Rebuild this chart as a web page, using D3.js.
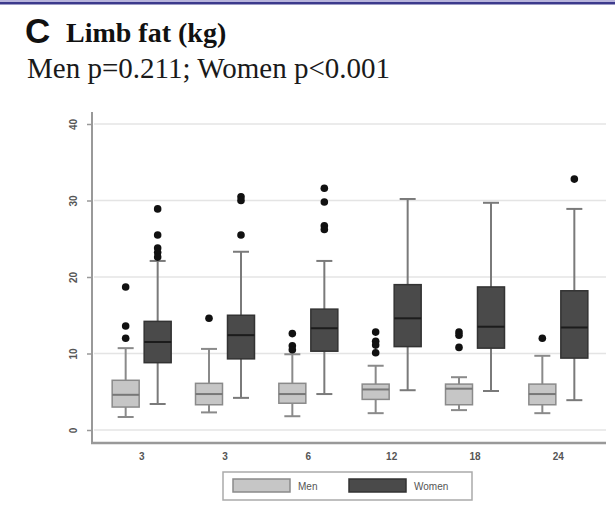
<!DOCTYPE html>
<html>
<head>
<meta charset="utf-8">
<script src="https://cdn.jsdelivr.net/npm/d3@7/dist/d3.min.js"></script>
<style>
  body { margin: 0; background: #fff; }
  svg { display: block; }
</style>
</head>
<body>
<svg id="chart" width="615" height="512"></svg>
<script>
// visit labels as printed under the boxes
const visits = ["3", "3", "6", "12", "18", "24"];
const yTicks = [0, 10, 20, 30, 40];

// men: whisker low, q1, median, q3, whisker high, outliers
const menLow = [1.7, 2.3, 1.8, 2.2, 2.6, 2.2];
const menQ1 = [3.0, 3.3, 3.5, 4.0, 3.3, 3.3];
const menMedian = [4.6, 4.7, 4.7, 5.3, 5.4, 4.7];
const menQ3 = [6.5, 6.1, 6.1, 6.0, 6.0, 6.0];
const menHigh = [10.7, 10.6, 9.9, 8.4, 6.9, 9.7];
const menOutliers = [[18.7, 13.6, 12.0], [14.6], [12.6, 11.0, 10.5], [12.8, 11.6, 11.1, 10.1], [12.8, 12.4, 10.8], [12.0]];

// women
const womenLow = [3.4, 4.2, 4.7, 5.2, 5.1, 3.9];
const womenQ1 = [8.8, 9.3, 10.3, 10.9, 10.7, 9.4];
const womenMedian = [11.5, 12.4, 13.3, 14.6, 13.5, 13.4];
const womenQ3 = [14.2, 15.0, 15.8, 19.0, 18.7, 18.2];
const womenHigh = [22.1, 23.3, 22.1, 30.2, 29.7, 28.9];
const womenOutliers = [[28.9, 25.5, 23.8, 23.2, 22.6], [30.5, 30.0, 25.5], [31.6, 29.8, 26.7, 26.2], [], [], [32.8]];

var svg = d3.select("#chart");

// frame line at the top
svg.append("rect").attr("x", 0).attr("y", 0).attr("width", 615).attr("height", 2).attr("fill", "#b8b4dc");
svg.append("rect").attr("x", 0).attr("y", 2).attr("width", 615).attr("height", 2.5).attr("fill", "#3c3a8c");

// titles
svg.append("text").attr("x", 25).attr("y", 43)
  .style("font-family", "Liberation Sans, Arial, sans-serif").style("font-weight", "bold")
  .style("font-size", "35px").attr("fill", "#111").text("C");
svg.append("text").attr("x", 66).attr("y", 42)
  .style("font-family", "Liberation Serif, Times New Roman, serif").style("font-weight", "bold")
  .style("font-size", "28px").attr("fill", "#111").text("Limb fat (kg)");
svg.append("text").attr("x", 27).attr("y", 78)
  .style("font-family", "Liberation Serif, Times New Roman, serif")
  .style("font-size", "29px").attr("fill", "#1a1a1a").text("Men p=0.211; Women p<0.001");

var x = d3.scaleBand().domain(d3.range(visits.length)).range([100, 600]);
var y = d3.scaleLinear().domain([0, 40]).range([430, 124]);

var plot = svg.append("g");

// gridlines
plot.selectAll(".grid").data(yTicks).enter().append("line")
  .attr("x1", 94).attr("x2", 606)
  .attr("y1", d => y(d)).attr("y2", d => y(d))
  .attr("stroke", "#e4e4e4").attr("stroke-width", 1.5);

// y axis
var yAxis = plot.append("g").attr("transform", "translate(92,0)")
  .call(d3.axisLeft(y).tickValues(yTicks).tickSize(5).tickPadding(10));
yAxis.select(".domain").attr("stroke", "#999").attr("stroke-width", 2).attr("d", "M0,112V443");
yAxis.selectAll(".tick line").attr("stroke", "#999").attr("stroke-width", 1.5);
yAxis.selectAll(".tick text")
  .attr("transform", "rotate(-90)").attr("x", 0).attr("y", -19).attr("dy", "0.35em")
  .style("text-anchor", "middle").style("font-family", "Liberation Sans, Arial, sans-serif")
  .style("font-weight", "bold").style("font-size", "10px").attr("fill", "#555");

// x axis
var xAxis = plot.append("g").attr("transform", "translate(0,443)")
  .call(d3.axisBottom(x).tickFormat(i => visits[i]).tickSize(0).tickPadding(10));
xAxis.select(".domain").attr("stroke", "#999").attr("stroke-width", 2.5).attr("d", "M91,0H606");
xAxis.selectAll(".tick text")
  .style("font-family", "Liberation Sans, Arial, sans-serif").style("font-weight", "bold")
  .style("font-size", "10px").attr("fill", "#555");

function drawBoxes(low, q1, med, q3, high, outs, offset, style) {
  var bw = 27, cap = 16;
  var g = plot.append("g");
  var groups = g.selectAll("g").data(d3.range(visits.length)).enter().append("g")
    .attr("transform", i => "translate(" + (x(i) + x.bandwidth() / 2 + offset) + ",0)");

  groups.append("line").attr("x1", 0).attr("x2", 0)
    .attr("y1", i => y(high[i])).attr("y2", i => y(q3[i]))
    .attr("stroke", style.whisker).attr("stroke-width", 2);
  groups.append("line").attr("x1", 0).attr("x2", 0)
    .attr("y1", i => y(q1[i])).attr("y2", i => y(low[i]))
    .attr("stroke", style.whisker).attr("stroke-width", 2);
  groups.append("line").attr("x1", -cap / 2).attr("x2", cap / 2)
    .attr("y1", i => y(high[i])).attr("y2", i => y(high[i]))
    .attr("stroke", style.whisker).attr("stroke-width", 2);
  groups.append("line").attr("x1", -cap / 2).attr("x2", cap / 2)
    .attr("y1", i => y(low[i])).attr("y2", i => y(low[i]))
    .attr("stroke", style.whisker).attr("stroke-width", 2);

  groups.append("rect").attr("x", -bw / 2).attr("width", bw)
    .attr("y", i => y(q3[i])).attr("height", i => y(q1[i]) - y(q3[i]))
    .attr("fill", style.fill).attr("stroke", style.stroke).attr("stroke-width", 1.5);
  groups.append("line").attr("x1", -bw / 2).attr("x2", bw / 2)
    .attr("y1", i => y(med[i])).attr("y2", i => y(med[i]))
    .attr("stroke", style.median).attr("stroke-width", 2);

  groups.selectAll("circle").data(i => outs[i]).enter().append("circle")
    .attr("cx", 0).attr("cy", d => y(d)).attr("r", 3.8).attr("fill", "#111");
}

drawBoxes(menLow, menQ1, menMedian, menQ3, menHigh, menOutliers, -16,
  { fill: "#c6c6c6", stroke: "#8a8a8a", median: "#777", whisker: "#8a8a8a" });
drawBoxes(womenLow, womenQ1, womenMedian, womenQ3, womenHigh, womenOutliers, 16,
  { fill: "#4a4a4a", stroke: "#333", median: "#1c1c1c", whisker: "#7a7a7a" });

// legend
var legend = svg.append("g");
legend.append("rect").attr("x", 223).attr("y", 472).attr("width", 249).attr("height", 28)
  .attr("fill", "#fff").attr("stroke", "#aaa").attr("stroke-width", 1.5);
var items = [
  { label: "Men", fill: "#c6c6c6", stroke: "#8a8a8a", x: 233 },
  { label: "Women", fill: "#4a4a4a", stroke: "#333", x: 349 }
];
legend.selectAll(".item").data(items).enter().append("rect")
  .attr("x", d => d.x).attr("y", 479).attr("width", 57).attr("height", 13)
  .attr("fill", d => d.fill).attr("stroke", d => d.stroke).attr("stroke-width", 1.5);
legend.selectAll(".lab").data(items).enter().append("text")
  .attr("x", d => d.x + 65).attr("y", 489.5)
  .style("font-family", "Liberation Sans, Arial, sans-serif").style("font-size", "10px")
  .attr("fill", "#555").text(d => d.label);
</script>
</body>
</html>
